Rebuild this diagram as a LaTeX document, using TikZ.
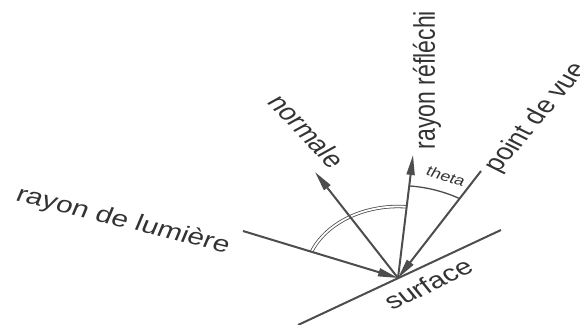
\documentclass[tikz,border=0pt]{standalone}
\usepackage{fontspec}
\setmainfont{Liberation Sans}
\usetikzlibrary{arrows.meta,calc}
\definecolor{linegray}{HTML}{4D4D4D}
\definecolor{textgray}{HTML}{333333}
\begin{document}
\begin{tikzpicture}[x=1pt,y=-1pt,
  ray/.style={draw=linegray, line width=2pt},
  tipend/.style={-{Triangle[length=20pt,width=8pt]}},
  lab/.style={text=textgray, inner sep=0pt, font=\fontsize{23}{23}\selectfont, xscale=1.3},
]
\useasboundingbox (0,0) rectangle (580,324);
\coordinate (P) at (398,278);
\coordinate (L) at (243,231);
\coordinate (N) at (315,172);
\coordinate (R) at (413,155);
\coordinate (V) at (481,171);
\coordinate (S1) at (298,325);
\coordinate (S2) at (501,230);
% angle arcs
\draw[draw=linegray, line width=0.8pt, double=white, double distance=1.8pt]
  ($(P)+({93*cos(-158.5)},{71.5*sin(-158.5)})$)
  arc[start angle=-158.5, end angle=-84.7, x radius=93, y radius=71.5];
\draw[draw=linegray, line width=1.3pt]
  ($(P)+({120*cos(-84.6)},{92.5*sin(-84.6)})$)
  arc[start angle=-84.6, end angle=-59.2, x radius=120, y radius=92.5];
% rays
\draw[ray] (S1) -- (S2);
\draw[ray, tipend] (L) -- (P);
\draw[ray, tipend] (P) -- (N);
\draw[ray, tipend] (P) -- (R);
\draw[ray, tipend] (V) -- (P);
% labels
\coordinate (cl) at (123,221);
\coordinate (cn) at (307,131);
\coordinate (cr) at (427,80);
\coordinate (cv) at (537,118);
\coordinate (cs) at (428,284);
\coordinate (ct) at (446,176);
\node[lab, rotate=-17.9] (tlum) at (cl) {rayon de lumière};
\node[lab, rotate=-54.3] (tnorm) at (cn) {normale};
\node[lab, rotate=90] (trefl) at (cr) {rayon réfléchi};
\node[lab, rotate=56.8] (tvue) at (cv) {point de vue};
\node[lab, rotate=32.1] (tsurf) at (cs) {surface};
\node[lab, rotate=-22.9, font=\fontsize{14}{14}\selectfont] (ttheta) at (ct) {theta};
\end{tikzpicture}
\end{document}
